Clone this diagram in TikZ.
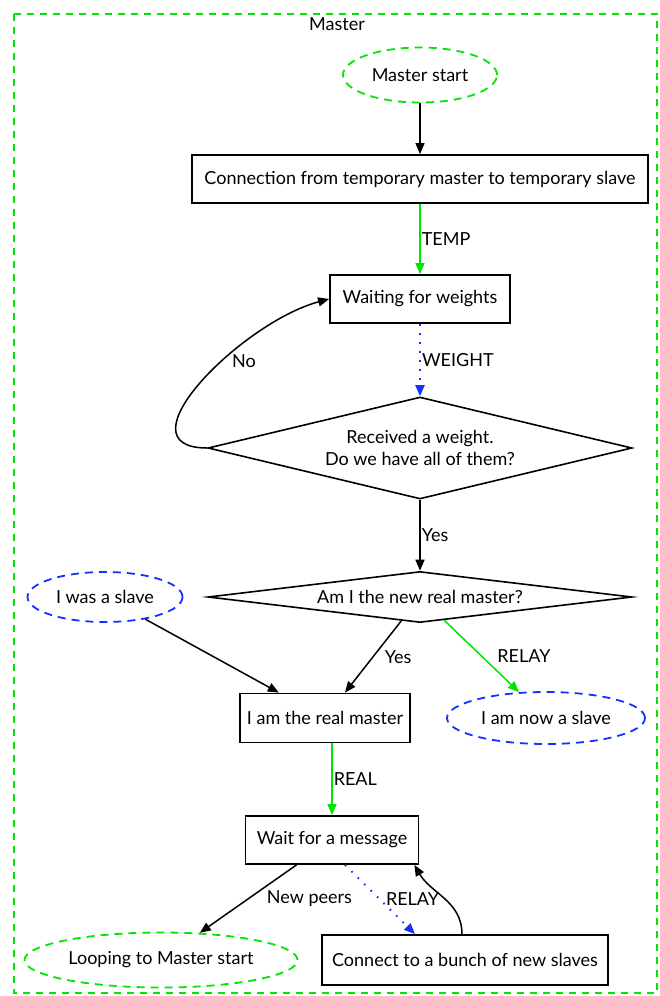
\documentclass[tikz,border=0pt]{standalone}
\usepackage{fontspec}
\setmainfont{Lato}
\usetikzlibrary{shapes.geometric, arrows.meta}
\definecolor{gvgreen}{RGB}{0,230,0}
\definecolor{gvblue}{RGB}{20,50,255}
\tikzset{box/.style  = {rectangle, draw, line width=0.9pt, inner sep=0pt},
           cond/.style = {diamond, draw, line width=0.8pt, inner sep=0pt, align=center},
           term/.style = {ellipse, draw=gvgreen, line width=0.9pt, dash pattern=on 4pt off 3pt, inner sep=0pt},
           slv/.style  = {ellipse, draw=gvblue, line width=0.9pt, dash pattern=on 4pt off 3pt, inner sep=0pt},
           lbl/.style  = {inner sep=0.5pt, text=black},
           dot/.style  = {gvblue, line width=1pt, dash pattern=on 0.8pt off 3.7pt}}

\begin{document}
\begin{tikzpicture}[x=0.5pt, y=-0.5pt, >={Triangle[length=5.5pt, width=4.5pt]}, line width=0.75pt,
                    font=\fontsize{9pt}{11pt}\selectfont]
    \useasboundingbox (0,0) rectangle (659,996);
    \draw[gvgreen, line width=0.9pt, dash pattern=on 3.5pt off 3pt] (14,14) rectangle (657,993);
    \node (title) at (337,24) {Master};
    \node[term, minimum width=77pt, minimum height=27.5pt] (ms) at (420,75) {Master start};
    \node[box, minimum width=228pt, minimum height=24pt] (conn) at (420,179) {Connection from temporary master to temporary slave};
    \node[box, minimum width=90pt, minimum height=24pt] (wait) at (420,299) {Waiting for weights};
    \node[cond, shape aspect=4, minimum width=212pt, minimum height=51pt] (recv) at (420,448) {Received a weight.\\Do we have all of them?};
    \node[cond, shape aspect=8, minimum width=212pt, minimum height=25.5pt] (new) at (420,597) {Am I the new real master?};
    \node[slv, minimum width=77.5pt, minimum height=25pt] (was) at (105,597) {I was a slave};
    \node[box, minimum width=85pt, minimum height=24.5pt] (real) at (325,718) {I am the real master};
    \node[slv, minimum width=99pt, minimum height=26pt] (now) at (546,718) {I am now a slave};
    \node[box, minimum width=86.5pt, minimum height=24pt] (msg) at (332,840) {Wait for a message};
    \node[term, minimum width=136.5pt, minimum height=27.5pt] (loop) at (161,960) {Looping to Master start};
    \node[box, minimum width=143pt, minimum height=25pt] (bunch) at (465,960) {Connect to a bunch of new slaves};

    \draw[->] (ms) -- (conn);
    \draw[->, gvgreen] (conn) -- node[lbl, right] {TEMP} (wait);
    \draw[->, dot] (wait) -- node[lbl, right] {WEIGHT} (recv);
    \draw[->] (recv.west) to[out=180, in=195, looseness=1.2] node[lbl, pos=.6, right=4pt] {No} (wait.west);
    \draw[->] (recv) -- node[lbl, right] {Yes} (new);
    \draw[->] (was) -- (real);
    \draw[->] (new) -- node[lbl, right, xshift=5pt] {Yes} (real);
    \draw[->, gvgreen] (new) -- node[lbl, right, xshift=7pt] {RELAY} (now);
    \draw[->, gvgreen] (msg.north |- real.south) -- node[lbl, right] {REAL} (msg);
    \draw[->] (msg) -- node[lbl, right, xshift=8.5pt] {New peers} (loop);
    \draw[->, dot] ([xshift=6.5pt]msg.south) -- node[lbl, right, xshift=2pt] {RELAY} ([xshift=-25pt]bunch.north);
    \draw[->] ([xshift=-1.5pt]bunch.north) to[out=90, in=-60] ([xshift=-2.5pt]msg.south east);
\end{tikzpicture}
\end{document}
